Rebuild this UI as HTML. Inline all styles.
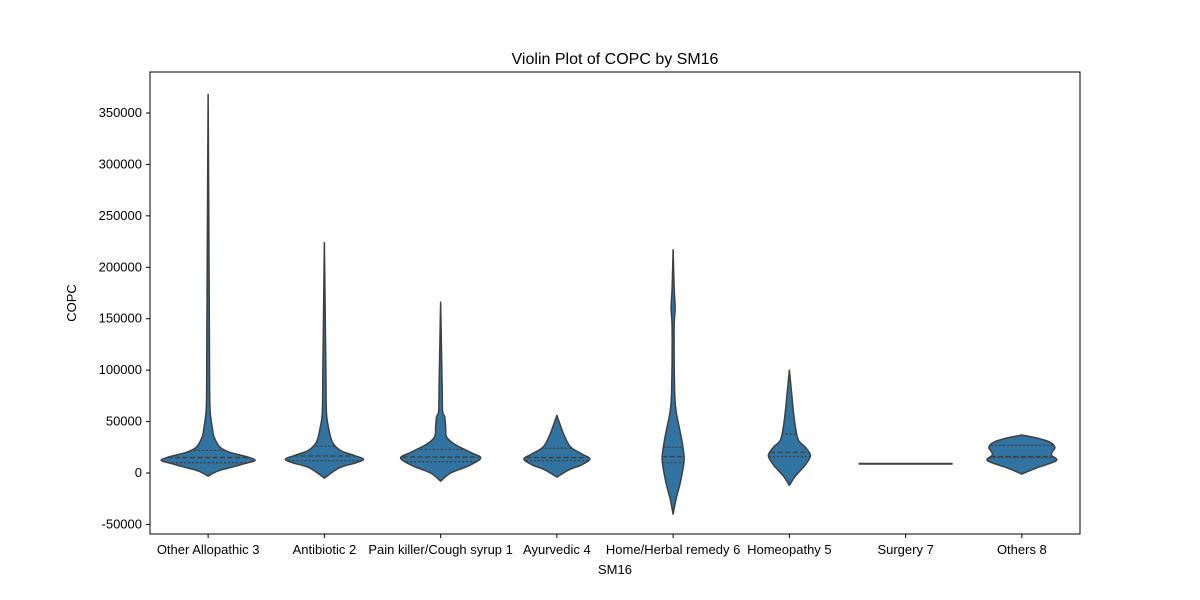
<!DOCTYPE html>
<html><head><meta charset="utf-8"><style>body{margin:0;background:#fff}svg{display:block;font-family:"Liberation Sans",sans-serif}</style></head>
<body>
<svg id="chart" width="1200" height="600"></svg>
<script>
const categories=["Other Allopathic 3","Antibiotic 2","Pain killer/Cough syrup 1","Ayurvedic 4","Home/Herbal remedy 6","Homeopathy 5","Surgery 7","Others 8"];
const profileValues=[
[-3000,2000,6000,10000,12500,16000,20000,25000,35000,45000,60000,80000,150000,368000],
[-5000,5000,10000,13500,17000,22000,30000,45000,60000,100000,224000],
[-8000,0,7000,14500,20000,28000,35000,45000,55000,60000,85000,166000],
[-4000,3000,8000,13500,18000,25000,35000,45000,56000],
[-40000,-25000,-10000,5000,15000,30000,45000,60000,80000,140000,160000,180000,217000],
[-12000,-3000,8000,17000,25000,32000,45000,60000,80000,100000],
[9000],
[-1000,5000,10000,13000,17000,20000,25000,30000,34000,36000,37000]];
const profileDensity=[
[0,10,25,40,47,38,22,12,6,4,2,1.5,1.2,0],
[0,15,32,39,30,16,8,4,2,1.5,0],
[0,10,28,40,30,14,6,5,4,2,1.5,0],
[0,12,25,33,26,14,8,4,0],
[0,3,7,10,11,9,6,3,1.5,1,2,1,0],
[0,6,16,21,16,9,6,4,2,0],
[47],
[0,15,30,35,30,30,33,28,15,5,0]];
const quartiles=[[10000,15000,22000],[12000,16500,26000],[11000,15500,23000],[12000,15000,24000],[10000,16000,25000],[16000,20000,38000],[],[15000,16000,27000]];
const yTicks=[-50000,0,50000,100000,150000,200000,250000,300000,350000];
const X0=150,X1=1080,Y0=72,Y1=534;
const y=v=>473-v*0.0010286;
const step=(X1-X0)/categories.length;
const x=i=>X0+step*(i+0.5);
const svg=document.getElementById('chart');const NS='http://www.w3.org/2000/svg';
function mk(t,a,p){const e=document.createElementNS(NS,t);for(const k in a)e.setAttribute(k,a[k]);(p||svg).appendChild(e);return e;}
function dens(i,v){const vs=profileValues[i],ds=profileDensity[i];for(let k=0;k<vs.length-1;k++){if(v>=vs[k]&&v<=vs[k+1]){const t=(v-vs[k])/(vs[k+1]-vs[k]);return ds[k]+t*(ds[k+1]-ds[k]);}}return 0;}
function smooth(pts){let d='M'+pts[0][0]+','+pts[0][1];for(let k=0;k<pts.length-1;k++){const p0=pts[Math.max(k-1,0)],p1=pts[k],p2=pts[k+1],p3=pts[Math.min(k+2,pts.length-1)];
const c1=[p1[0]+(p2[0]-p0[0])/6,p1[1]+(p2[1]-p0[1])/6],c2=[p2[0]-(p3[0]-p1[0])/6,p2[1]-(p3[1]-p1[1])/6];
d+=' C'+c1[0]+','+c1[1]+' '+c2[0]+','+c2[1]+' '+p2[0]+','+p2[1];}return d;}
let t=mk('text',{x:615,y:64,'text-anchor':'middle','font-size':16,fill:'#000'});t.textContent='Violin Plot of COPC by SM16';


yTicks.forEach(v=>{const g=mk('g',{});


mk('line',{x1:X0-4,x2:X0,y1:y(v),y2:y(v),stroke:'#000'},g);
const l=mk('text',{x:X0-8,y:y(v)+4,'text-anchor':'end','font-size':13},g);l.textContent=v;});
categories.forEach((c,i)=>{const cx=x(i);
const g=mk('g',{});


const vs=profileValues[i],ds=profileDensity[i];
if(vs.length===1){mk('line',{x1:cx-ds[0],x2:cx+ds[0],y1:y(vs[0]),y2:y(vs[0]),stroke:'#3f3f3f','stroke-width':2},g);}
else{const r=vs.map((v,k)=>[cx+ds[k],y(v)]);const l=vs.map((v,k)=>[cx-ds[k],y(v)]).reverse();
mk('path',{d:smooth(r)+' L'+smooth(l).slice(1)+' Z',fill:'#3274a1',stroke:'#3f3f3f','stroke-width':1.5,'stroke-linejoin':'round'},g);
quartiles[i].forEach((q,k)=>{const w=dens(i,q);mk('line',{x1:cx-w,x2:cx+w,y1:y(q),y2:y(q),stroke:'#3f3f3f','stroke-width':1.3,'stroke-dasharray':k===1?'5,2.5':'2,2'},g);});}
mk('line',{x1:cx,x2:cx,y1:Y1,y2:Y1+4,stroke:'#000'});
const lb=mk('text',{x:cx,y:Y1+20,'text-anchor':'middle','font-size':13});lb.textContent=c;

});
const fr=mk('rect',{x:X0,y:Y0,width:X1-X0,height:Y1-Y0,fill:'none',stroke:'#000','stroke-width':1});


const xl=mk('text',{x:615,y:574,'text-anchor':'middle','font-size':13});xl.textContent='SM16';


const yl=mk('text',{x:0,y:0,'text-anchor':'middle','font-size':13,transform:'translate(76,303) rotate(-90)'});yl.textContent='COPC';


</script>
</body></html>
